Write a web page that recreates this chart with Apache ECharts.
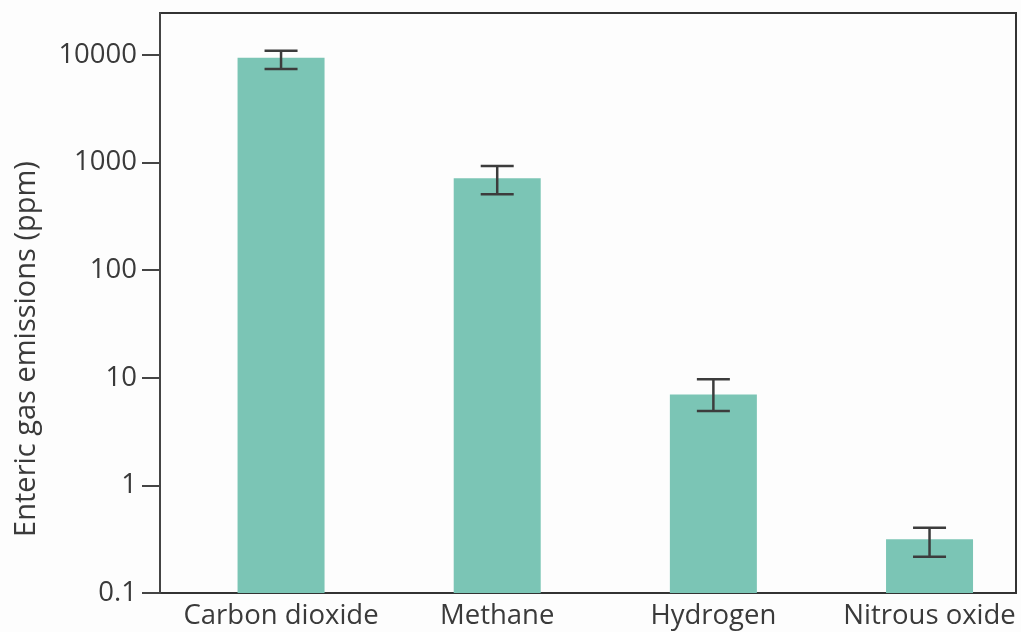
<!DOCTYPE html>
<html>
<head>
<meta charset="utf-8">
<script src="https://cdn.jsdelivr.net/npm/echarts@6/dist/echarts.min.js"></script>
<style>
  html, body { margin: 0; padding: 0; background: #fdfdfd; }
  #chart { width: 1021px; height: 632px; }
</style>
</head>
<body>
<div id="chart"></div>
<script>
// Enteric gas emissions (ppm), log scale
const categories = ['Carbon dioxide', 'Methane', 'Hydrogen', 'Nitrous oxide'];
const means = [9400, 714, 7.0, 0.315];
const errLow = [7400, 507, 4.9, 0.217];
const errHigh = [10900, 929, 9.7, 0.404];
const yTicks = [0.1, 1, 10, 100, 1000, 10000];
const yTitle = 'Enteric gas emissions (ppm)';

const FONT = '"Open Sans", "Noto Sans", sans-serif';
const TEXT = '#3a3a3a';
const LINE = '#333333';
const Y_MIN = 0.1;

const chart = echarts.init(document.getElementById('chart'), null, { renderer: 'canvas' });

// each row: category index, mean, lower error, upper error
const rows = categories.map((c, i) => [i, means[i], errLow[i], errHigh[i]]);
const catIndex = categories.map((c, i) => i);

chart.setOption({
  animation: false,
  backgroundColor: '#fdfdfd',
  grid: {
    left: 160, right: 5, top: 13, bottom: 39, containLabel: false,
    show: true, borderColor: LINE, borderWidth: 2, backgroundColor: 'transparent'
  },
  xAxis: {
    type: 'value',
    min: -0.56,
    max: 3.4,
    axisLine: { show: false, onZero: false },
    axisTick: { show: false },
    splitLine: { show: false },
    axisLabel: {
      customValues: catIndex,
      formatter: v => categories[Math.round(v)],
      fontFamily: FONT, fontSize: 27.5, color: TEXT, margin: 9
    }
  },
  yAxis: {
    type: 'log',
    min: Y_MIN,
    max: 24500,
    axisLine: { show: true, onZero: false, lineStyle: { color: '#444', width: 2 } },
    axisTick: {
      show: true, length: 18, customValues: yTicks,
      lineStyle: { color: '#444', width: 2 }
    },
    axisLabel: {
      customValues: yTicks, fontFamily: FONT, fontSize: 27.5, color: TEXT, margin: 23,
      formatter: v => String(v)
    },
    splitLine: { show: false },
    minorTick: { show: false }
  },
  graphic: [
    {
      type: 'text', z: 100, silent: true,
      x: 27, y: 349, rotation: Math.PI / 2,
      style: {
        text: yTitle, fontFamily: FONT, fontSize: 29, fill: TEXT,
        align: 'center', verticalAlign: 'middle'
      }
    }
  ],
  series: [
    {
      // bars rising from the bottom of the log axis
      type: 'custom',
      data: rows,
      encode: { x: 0, y: 1 },
      renderItem: function (params, api) {
        const x = api.value(0);
        const top = api.coord([x, api.value(1)]);
        const base = api.coord([x, Y_MIN]);
        const w = 87;
        return {
          type: 'rect',
          shape: { x: top[0] - w / 2, y: top[1], width: w, height: base[1] - top[1] },
          style: { fill: '#7bc5b5' }
        };
      }
    },
    {
      // error bars
      type: 'custom',
      z: 10,
      data: rows,
      encode: { x: 0, y: [2, 3] },
      renderItem: function (params, api) {
        const x = api.value(0);
        const lo = api.coord([x, api.value(2)]);
        const hi = api.coord([x, api.value(3)]);
        const hw = 16.5;
        const style = { stroke: '#3c3c3c', lineWidth: 2.5 };
        return {
          type: 'group',
          children: [
            { type: 'line', shape: { x1: lo[0], y1: lo[1], x2: hi[0], y2: hi[1] }, style },
            { type: 'line', shape: { x1: lo[0] - hw, y1: lo[1], x2: lo[0] + hw, y2: lo[1] }, style },
            { type: 'line', shape: { x1: hi[0] - hw, y1: hi[1], x2: hi[0] + hw, y2: hi[1] }, style }
          ]
        };
      }
    }
  ]
});
</script>
</body>
</html>
